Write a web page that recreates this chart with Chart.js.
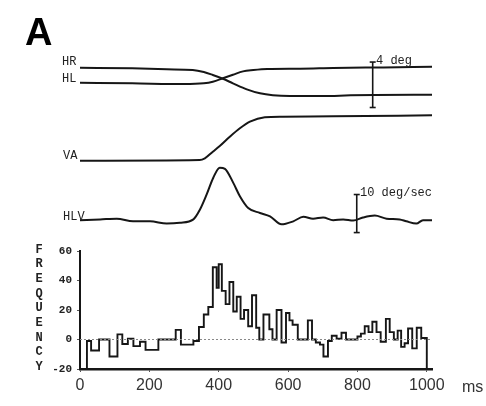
<!DOCTYPE html>
<html>
<head>
<meta charset="utf-8">
<script src="https://cdn.jsdelivr.net/npm/chart.js@4.4.0/dist/chart.umd.min.js"></script>
<style>
  html, body { margin: 0; padding: 0; background: #fff; }
  #wrap { position: relative; width: 486px; height: 406px; overflow: hidden; }
  #chart { position: absolute; left: 0; top: 0; }
  .lbl { position: absolute; font-family: "Liberation Mono", monospace; font-size: 12px; line-height: 12px; color: #222; white-space: nowrap; }
  #panel { position: absolute; left: 25px; top: 13px; font-family: "Liberation Sans", Arial, sans-serif; font-weight: bold; font-size: 38px; line-height: 38px; color: #000; }
  #freq { position: absolute; left: 32px; top: 242.7px; width: 14px; text-align: center; font-family: "Liberation Mono", monospace; font-weight: bold; font-size: 12px; line-height: 14.65px; color: #222; }
  #ms { position: absolute; left: 462px; top: 379px; font-family: "Liberation Sans", Arial, sans-serif; font-size: 16px; line-height: 16px; color: #333; }
</style>
</head>
<body>
<div id="wrap">
  <canvas id="chart" width="486" height="406"></canvas>
  <div id="panel">A</div>
  <div class="lbl" style="left:62px; top:55.8px">HR</div>
  <div class="lbl" style="left:62px; top:72.5px">HL</div>
  <div class="lbl" style="left:63px; top:150.2px">VA</div>
  <div class="lbl" style="left:63px; top:211px">HLV</div>
  <div class="lbl" style="left:376px; top:55.2px">4 deg</div>
  <div class="lbl" style="left:360px; top:186.8px">10 deg/sec</div>
  <div id="freq">F<br>R<br>E<br>Q<br>U<br>E<br>N<br>C<br>Y</div>
  <div id="ms">ms</div>
</div>
<script>
// histogram: each step starts at stepMs[i] and holds freq[i]
const stepMs = [20, 32, 55, 85, 108, 122, 138, 154, 173, 189, 226, 276, 291, 327, 343,
  357, 370, 383, 394, 400, 409, 420, 431, 442, 452, 463, 473, 485, 496, 508,
  517, 529, 546, 555, 567, 581, 594, 604, 613, 628, 657, 669, 680, 692, 702,
  715, 726, 740, 754, 767, 800, 810, 821, 832, 843, 855, 867, 882, 893, 905,
  916, 926, 936, 946, 958, 971, 984];
const freq = [-1, -7.5, 0, -11.5, 3.5, -3, 0.5, -4.5, -1.5, -7, 0, 6.5, -3.5, -1, 8.5,
  17, 22, 49, 35, 51, 33, 24, 39, 19, 29, 14, 20, 9, 30, 8,
  0, 17, 7, 0, 20, -2, 18, 13, 10, 0, 13, 0, -2, -3.5, -11.5,
  -1, 2.5, 0.5, 4.6, 0, 2, 4, 9, 5, 12, 5, -1.5, 14, 5, 0,
  6, -5, -2.5, 7.5, -6, 8, 1];
const histEndMs = 1000;

const xTicks = [0, 200, 400, 600, 800, 1000];
const freqTicks = [-20, 0, 20, 40, 60];

// eye traces, degrees relative to the start of each trace
const hrMs  = [0, 150, 250, 325, 357, 383, 412, 441, 481, 519, 556, 605, 700, 780, 850, 1015];
const hrDeg = [0, -0.05, -0.14, -0.2, -0.38, -0.64, -0.97, -1.37, -1.9, -2.25, -2.42, -2.49, -2.49, -2.43, -2.4, -2.38];
const hlMs  = [0, 150, 300, 357, 383, 412, 441, 470, 500, 540, 635, 730, 875, 1015];
const hlDeg = [0, -0.05, -0.12, -0.05, 0.09, 0.39, 0.7, 1.0, 1.11, 1.2, 1.23, 1.29, 1.35, 1.41];
const vaMs  = [0, 345, 360, 383, 403, 432, 461, 490, 533, 585, 730, 1015];
const vaDeg = [0, 0.06, 0.21, 0.79, 1.29, 2.11, 2.85, 3.43, 3.82, 3.87, 3.9, 4.0];
// velocity trace, deg/sec
const hlvMs  = [0, 58, 106, 153, 202, 250, 288, 327, 346, 365, 384, 403, 418, 442, 461, 485,
  519, 548, 581, 615, 644, 672, 701, 730, 759, 788, 816, 850, 884, 922, 941, 970, 989, 1015];
const hlvVel = [0.1, 0.3, 0.5, -0.2, -0.2, -0.8, -0.6, 0.3, 2.9, 6.8, 11.2, 13.9, 13.6, 9.9, 6.4, 3.3,
  2.0, 1.1, -1.0, -0.2, 1.0, 0.5, 0.8, 0.1, 0.3, 0, 0.8, 1.3, 0.5, 0.3, -0.2, -0.8, 0.1, 0.1];

const ink = '#161616';

function trace(ms, vals, base, axis) {
  return {
    data: ms.map((t, i) => ({ x: t, y: base + vals[i] })),
    yAxisID: axis,
    borderColor: ink,
    borderWidth: 2,
    pointRadius: 0,
    cubicInterpolationMode: 'monotone'
  };
}

function scaleBar(t, top, len, axis) {
  return {
    data: [{ x: t, y: top }, { x: t, y: top - len }],
    yAxisID: axis,
    borderColor: ink,
    borderWidth: 1.6,
    pointStyle: 'line',
    pointRadius: 3,
    pointBorderWidth: 1.6,
    pointBorderColor: ink
  };
}

const histData = [{ x: stepMs[0], y: freqTicks[0] }]
  .concat(stepMs.map((t, i) => ({ x: t, y: freq[i] })))
  .concat([{ x: histEndMs, y: freqTicks[0] }]);

const datasets = [
  {
    data: [{ x: 0, y: 0 }, { x: 1015, y: 0 }],
    yAxisID: 'y',
    borderColor: '#888',
    borderWidth: 1,
    borderDash: [2, 2],
    pointRadius: 0
  },
  {
    data: histData,
    yAxisID: 'y',
    stepped: true,
    borderColor: ink,
    borderWidth: 1.9,
    pointRadius: 0
  },
  trace(hrMs, hrDeg, 8.56, 'yPos'),
  trace(hlMs, hlDeg, 7.24, 'yPos'),
  trace(vaMs, vaDeg, 0.38, 'yPos'),
  trace(hlvMs, hlvVel, 0, 'yVel'),
  scaleBar(844, 9.06, 4, 'yPos'),
  scaleBar(798, 6.84, 10, 'yVel')
];

const hiddenAxis = {
  ticks: { display: false },
  grid: { display: false },
  border: { display: false }
};

new Chart(document.getElementById('chart'), {
  type: 'line',
  data: { datasets },
  options: {
    responsive: false,
    animation: false,
    layout: { padding: { left: 0, right: 54, top: 40, bottom: 0 } },
    plugins: { legend: { display: false }, tooltip: { enabled: false } },
    scales: {
      x: {
        type: 'linear',
        position: 'bottom',
        min: 0,
        max: 1015,
        afterBuildTicks: s => { s.ticks = xTicks.map(v => ({ value: v })); },
        afterFit: s => { s.height = 37; },
        ticks: {
          color: '#333', padding: 4, maxRotation: 0,
          font: { family: 'Liberation Sans', size: 16 },
          callback: v => String(v)
        },
        grid: { drawOnChartArea: false, tickLength: 3, color: '#555' },
        border: { color: ink, width: 2.5 }
      },
      yPos: Object.assign({
        type: 'linear', position: 'left', stack: 'left', stackWeight: 125, weight: 2,
        min: 0, max: 11,
        afterFit: s => { s.width = 80; }
      }, hiddenAxis),
      yVel: Object.assign({
        type: 'linear', position: 'left', stack: 'left', stackWeight: 86, weight: 1,
        min: -8, max: 14.6,
        afterFit: s => { s.width = 80; }
      }, hiddenAxis),
      y: {
        type: 'linear', position: 'left', stack: 'left', stackWeight: 118, weight: 0,
        min: -20, max: 60,
        afterBuildTicks: s => { s.ticks = freqTicks.map(v => ({ value: v })); },
        afterFit: s => { s.width = 80; },
        ticks: {
          color: '#222', padding: 5,
          font: { family: 'Liberation Mono', size: 11, weight: 'bold' },
          callback: v => String(v)
        },
        grid: { drawOnChartArea: false, tickLength: 3, color: '#555' },
        border: { color: ink, width: 2 }
      }
    }
  }
});
</script>
</body>
</html>
